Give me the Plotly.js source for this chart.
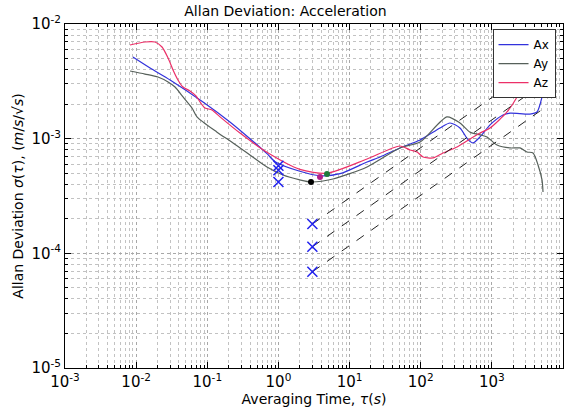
<!DOCTYPE html>
<html>
<head>
<meta charset="utf-8">
<script src="https://cdn.plot.ly/plotly-3.0.1.min.js"></script>
<style>html,body{margin:0;padding:0;background:#fff;}#chart{width:571px;height:413px;}</style>
</head>
<body>
<div id="chart"></div>
<script>
// Averaging time (s) and Allan deviation (m/s/sqrt(s))
const tauAx = [0.009, 0.0157, 0.030, 0.087, 0.208, 0.398, 0.69, 0.9, 2.0, 3.84, 7.35, 17.6, 26.8, 51, 98, 187, 258, 356, 462, 543, 682, 942, 1435, 1800, 3436, 4315, 5070, 5585];
const sigAx = [5.15e-3, 4.13e-3, 3.25e-3, 2.09e-3, 1.40e-3, 1.0e-3, 7.4e-4, 6.3e-4, 5.2e-4, 4.75e-4, 4.95e-4, 6.26e-4, 6.92e-4, 8.30e-4, 9.75e-4, 1.24e-3, 1.37e-3, 1.24e-3, 9.8e-4, 9.18e-4, 1.035e-3, 1.32e-3, 1.61e-3, 1.67e-3, 1.64e-3, 1.71e-3, 2.31e-3, 3.25e-3];

const tauAy = [0.0082, 0.0133, 0.0203, 0.0281, 0.0352, 0.0456, 0.061, 0.0716, 0.137, 0.230, 0.398, 0.69, 1.16, 2.0, 2.87, 5.85, 17.6, 51, 98, 234, 356, 493, 682, 855, 1183, 1800, 2489, 3119, 3793, 4457, 5070, 5236];
const sigAy = [3.89e-3, 3.66e-3, 3.45e-3, 3.12e-3, 2.82e-3, 2.31e-3, 1.85e-3, 1.55e-3, 1.14e-3, 9.18e-4, 7.21e-4, 5.66e-4, 4.82e-4, 4.37e-4, 4.19e-4, 4.45e-4, 5.66e-4, 8.30e-4, 9.35e-4, 1.55e-3, 1.37e-3, 1.14e-3, 1.08e-3, 1.035e-3, 8.81e-4, 8.30e-4, 8.30e-4, 7.66e-4, 7.50e-4, 5.90e-4, 4.37e-4, 3.43e-4];

const tauAz = [0.0082, 0.0133, 0.0184, 0.0231, 0.0281, 0.033, 0.0387, 0.0456, 0.0571, 0.0693, 0.079, 0.0929, 0.1164, 0.151, 0.288, 0.69, 2.0, 4.82, 17.6, 51, 70.8, 88.7, 108, 149, 206, 324, 493, 682, 942, 1633, 2259, 2924, 4044, 5585];
const sigAz = [6.56e-3, 6.97e-3, 6.97e-3, 6.30e-3, 5.05e-3, 3.97e-3, 3.25e-3, 2.82e-3, 2.61e-3, 2.36e-3, 2.09e-3, 1.85e-3, 1.78e-3, 1.55e-3, 1.12e-3, 7.6e-4, 5.4e-4, 5.0e-4, 6.65e-4, 8.63e-4, 7.97e-4, 7.66e-4, 6.92e-4, 6.79e-4, 7.50e-4, 8.47e-4, 9.94e-4, 1.12e-3, 1.24e-3, 1.71e-3, 2.31e-3, 3.25e-3, 5.37e-3, 8.87e-3];

// Marked points
const dotTau = [2.87, 3.84, 4.82];
const dotSig = [4.19e-4, 4.63e-4, 4.92e-4];
const dotColors = ['#000000', '#b0208a', '#1e7a3a'];

const crossTau = [1, 1, 1, 3, 3, 3];
const crossSig = [5.8e-4, 5.3e-4, 4.19e-4, 1.8e-4, 1.14e-4, 6.9e-5];

// Dashed reference lines (start / end)
const refTau = [3, 6000];
const refTop = [1.8e-4, 5.0e-3];
const refMid = [1.14e-4, 3.2e-3];
const refBot = [6.9e-5, 1.93e-3];

const xTickVals = [1e-3, 1e-2, 1e-1, 1, 1e1, 1e2, 1e3, 1e4];
const xTickText = ['10<sup>-3</sup>', '10<sup>-2</sup>', '10<sup>-1</sup>', '10<sup>0</sup>', '10<sup>1</sup>', '10<sup>2</sup>', '10<sup>3</sup>', '10<sup>4</sup>'];
const yTickVals = [1e-5, 1e-4, 1e-3, 1e-2];
const yTickText = ['10<sup>-5</sup>', '10<sup>-4</sup>', '10<sup>-3</sup>', '10<sup>-2</sup>'];

const lineStyle = (c) => ({color: c, width: 1.2, shape: 'spline', smoothing: 0.7});

const traces = [
  {x: tauAx, y: sigAx, name: 'Ax', mode: 'lines', line: lineStyle('#3232dc')},
  {x: tauAy, y: sigAy, name: 'Ay', mode: 'lines', line: lineStyle('#56605a')},
  {x: tauAz, y: sigAz, name: 'Az', mode: 'lines', line: lineStyle('#ec3068')},
  {x: refTau, y: refTop, mode: 'lines', showlegend: false, line: {color: '#222', width: 1, dash: 'dash'}},
  {x: refTau, y: refMid, mode: 'lines', showlegend: false, line: {color: '#222', width: 1, dash: 'dash'}},
  {x: refTau, y: refBot, mode: 'lines', showlegend: false, line: {color: '#222', width: 1, dash: 'dash'}},
  {x: dotTau, y: dotSig, mode: 'markers', showlegend: false, marker: {color: dotColors, size: 6}},
  {x: crossTau, y: crossSig, mode: 'markers', showlegend: false, marker: {symbol: 'x-thin-open', size: 10, color: '#2222ee', line: {color: '#2222ee', width: 1.5}}}
];

const axisCommon = {
  type: 'log',
  showline: true, mirror: 'ticks', linecolor: '#000', linewidth: 1,
  ticks: 'inside', ticklen: 6, tickcolor: '#000',
  showgrid: true, gridcolor: '#a8a8a8', griddash: 'dot', gridwidth: 1,
  zeroline: false,
  tickfont: {size: 15, color: '#000'},
  minor: {dtick: 'D1', ticks: 'inside', ticklen: 3, tickcolor: '#000', showgrid: true, gridcolor: '#c2c2c2', griddash: 'dot', gridwidth: 1}
};

const layout = {
  width: 571, height: 413,
  margin: {l: 65, r: 8, t: 24, b: 45},
  paper_bgcolor: '#fff', plot_bgcolor: '#fff',
  font: {family: 'DejaVu Sans, sans-serif', color: '#000'},
  title: {text: 'Allan Deviation: Acceleration', x: 0.5, xanchor: 'center', y: 0.972, yanchor: 'middle', font: {size: 14}},
  xaxis: Object.assign({}, axisCommon, {
    range: [-3, 4], tickvals: xTickVals, ticktext: xTickText,
    title: {text: 'Averaging Time, <i>τ</i>(<i>s</i>)', font: {size: 14}, standoff: 2}
  }),
  yaxis: Object.assign({}, axisCommon, {
    range: [-5, -2], tickvals: yTickVals, ticktext: yTickText,
    title: {text: 'Allan Deviation <i>σ</i>(<i>τ</i>), (<i>m</i>/<i>s</i>/√<i>s</i>)', font: {size: 14}, standoff: 4}
  }),
  legend: {x: 0.985, y: 0.985, xanchor: 'right', yanchor: 'top', bgcolor: '#fff', bordercolor: '#333', borderwidth: 1, font: {size: 12}, itemwidth: 30, tracegroupgap: 0},
  showlegend: true
};

Plotly.newPlot('chart', traces, layout, {displayModeBar: false, staticPlot: true});
</script>
</body>
</html>
